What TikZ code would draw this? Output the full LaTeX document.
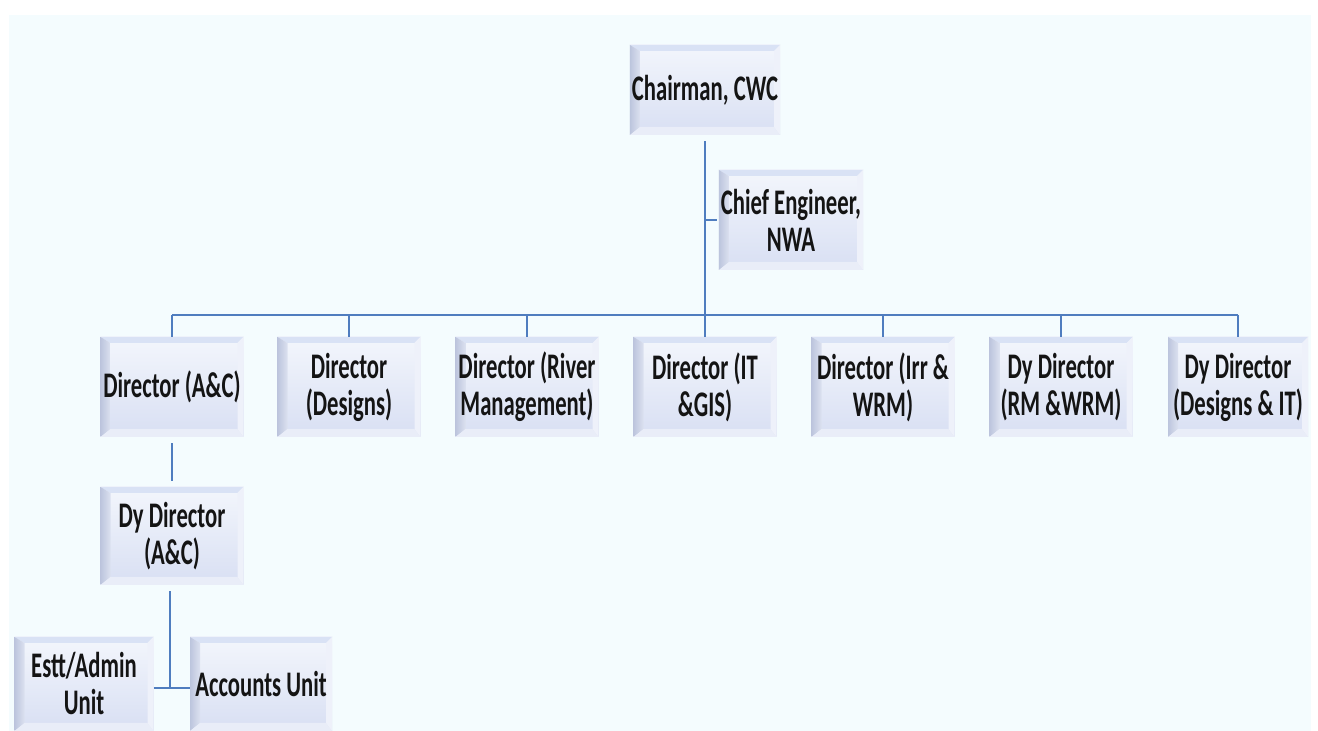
\documentclass[tikz,border=0pt]{standalone}
\usepackage{fontspec}
\setmainfont{Carlito}[FakeStretch=0.63]
\usetikzlibrary{positioning}
\definecolor{bgc}{HTML}{F4FCFE}
\definecolor{linec}{HTML}{4F7DBF}
\definecolor{boxtop}{HTML}{F3F6FC}
\definecolor{boxbot}{HTML}{D8DFF3}
\definecolor{bevL}{HTML}{C4CDE6}
\definecolor{bevT}{HTML}{D9E2F5}
\definecolor{bevB}{HTML}{E9EDF8}
\definecolor{bevR}{HTML}{EEF1FA}
\definecolor{txt}{HTML}{141414}
\tikzset{
  orgbox/.style={rectangle, minimum width=71.5pt, minimum height=50pt, inner sep=1pt,
    top color=boxtop, bottom color=boxbot, text=txt, align=center,
    font=\fontsize{18}{18.5}\selectfont\bfseries,
    path picture={
      \fill[bevT] (path picture bounding box.north west) -- (path picture bounding box.north east)
        -- ([xshift=-3pt,yshift=-3pt]path picture bounding box.north east)
        -- ([xshift=5pt,yshift=-3pt]path picture bounding box.north west) -- cycle;
      \shade[left color=bevL!80!black!20!bevL, right color=bevL!60!white] (path picture bounding box.north west)
        -- ([xshift=5pt,yshift=-3pt]path picture bounding box.north west)
        -- ([xshift=5pt,yshift=4pt]path picture bounding box.south west)
        -- (path picture bounding box.south west) -- cycle;
      \fill[bevB] (path picture bounding box.south west)
        -- ([xshift=5pt,yshift=4pt]path picture bounding box.south west)
        -- ([xshift=-3pt,yshift=4pt]path picture bounding box.south east)
        -- (path picture bounding box.south east) -- cycle;
      \fill[bevR] (path picture bounding box.south east)
        -- ([xshift=-3pt,yshift=4pt]path picture bounding box.south east)
        -- ([xshift=-3pt,yshift=-3pt]path picture bounding box.north east)
        -- (path picture bounding box.north east) -- cycle;
    }},
  conn/.style={draw=linec, line width=1.1pt}
}
\begin{document}
\begin{tikzpicture}[x=0.5pt,y=-0.5pt]
\useasboundingbox (0,0) rectangle (1318,731);
\fill[white] (0,0) rectangle (1318,731);
\fill[bgc] (9,15) rectangle (1311,731);

\node[orgbox, minimum width=70pt, minimum height=45pt] (ch) at (705,90) {Chairman, CWC};
\node[orgbox, minimum width=71pt] (ce) at (791,220) {Chief Engineer,\\NWA};

\node[orgbox] (d1) at (172,387) {Director (A\&C)};
\node[orgbox] (d2) at (349,387) {Director\\(Designs)};
\node[orgbox] (d3) at (527,387) {Director (River\\Management)};
\node[orgbox] (d4) at (705,387) {Director (IT\\\&GIS)};
\node[orgbox] (d5) at (883,387) {Director (Irr \&\\WRM)};
\node[orgbox] (d6) at (1061,387) {Dy Director\\(RM \&WRM)};
\node[orgbox, minimum width=70pt] (d7) at (1238,387) {Dy Director\\(Designs \& IT)};

\node[orgbox, minimum height=49pt] (dy) at (172,536) {Dy Director\\(A\&C)};
\node[orgbox, minimum width=69.5pt, minimum height=47pt] (es) at (84,684) {Estt/Admin\\Unit};
\node[orgbox, minimum width=71pt, minimum height=47pt] (ac) at (261,684) {Accounts Unit};

\coordinate (bus) at (0,315);
\coordinate (tick) at (0,688);

\draw[conn] ([yshift=-3pt]ch.south) -- (ch.south |- bus);
\draw[conn] (ce.west -| ch.south) -- ([xshift=-1pt]ce.west);
\draw[conn] (d1.north |- bus) -- (d7.north |- bus);
\foreach \n in {d1,d2,d3,d4,d5,d6,d7}{
  \draw[conn] (\n.north |- bus) -- (\n.north);
}
\draw[conn] ([yshift=-3pt]d1.south) -- ([yshift=3pt]dy.north);
\draw[conn] ([xshift=-1pt,yshift=-3pt]dy.south) -- ([xshift=-1pt]dy.south |- tick);
\draw[conn] (es.east |- tick) -- (ac.west |- tick);
\end{tikzpicture}
\end{document}
